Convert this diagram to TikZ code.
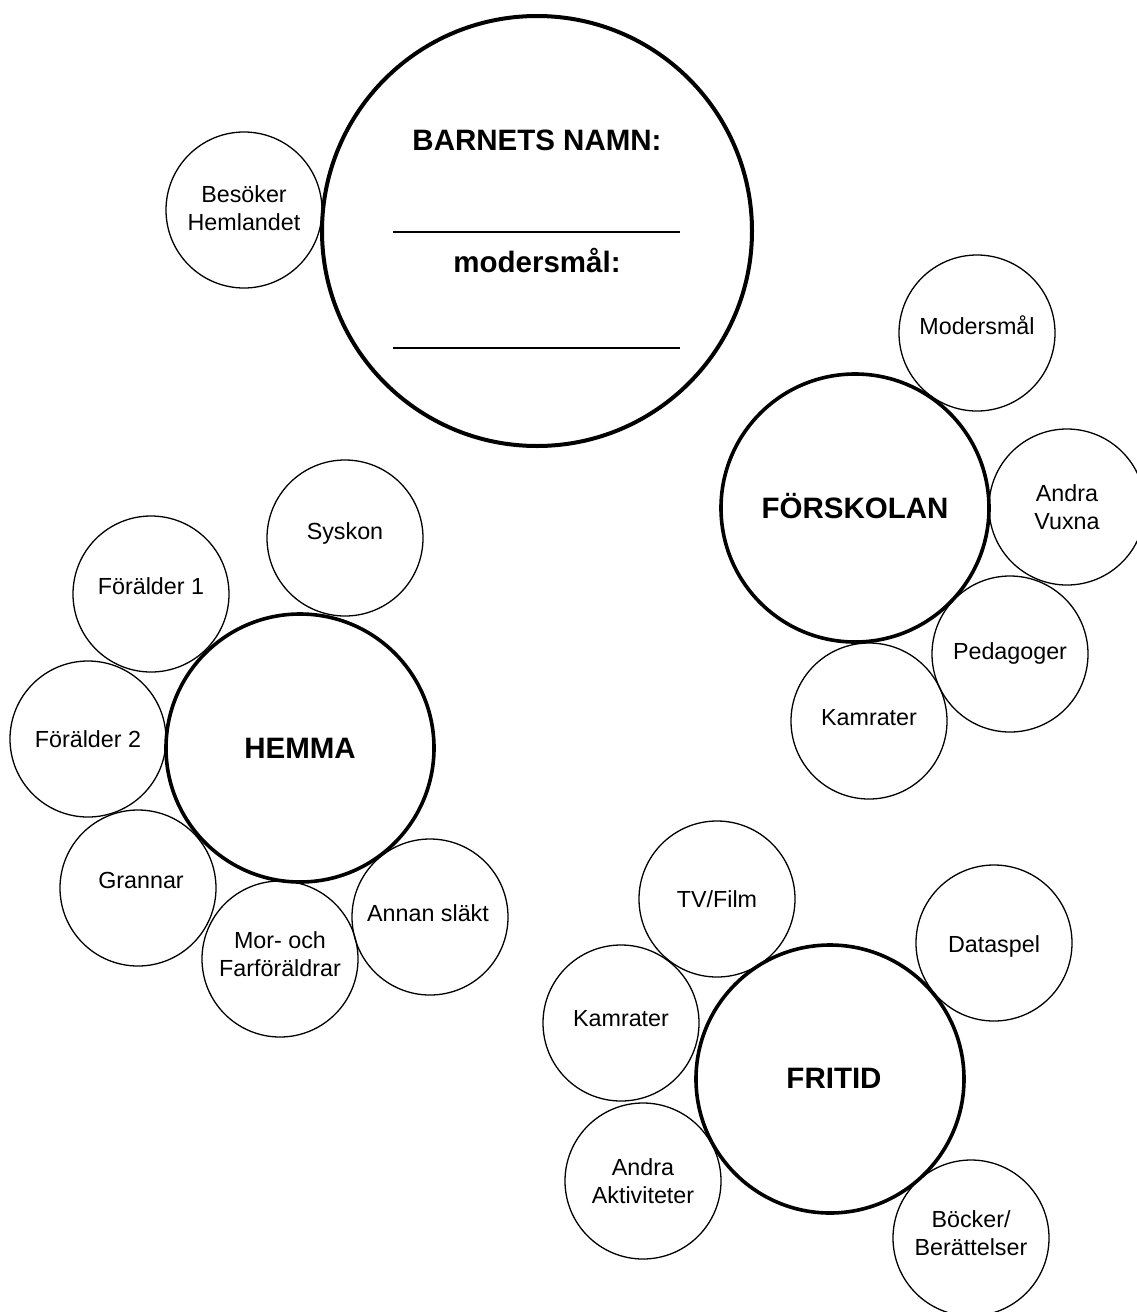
\documentclass[tikz,border=0pt]{standalone}
\usepackage{fontspec}
\setmainfont{Liberation Sans}
\begin{document}
\begin{tikzpicture}[x=1pt,y=-1pt,
  small/.style={circle,draw,line width=1.3pt,minimum size=156pt,inner sep=0pt},
  big/.style={circle,draw,line width=3.6pt,minimum size=268pt,inner sep=0pt},
  huge/.style={circle,draw,line width=4pt,minimum size=430pt,inner sep=0pt},
  stxt/.style={inner sep=0pt,align=center,font=\fontsize{23.3}{28.5}\selectfont},
  btxt/.style={inner sep=0pt,font=\fontsize{29.5}{34}\selectfont\bfseries},
  title/.style={anchor=base,inner sep=0pt,font=\fontsize{29.5}{34}\selectfont\bfseries},
  rule/.style={line width=1.3pt}]
\useasboundingbox (0,0) rectangle (1136,1312);
% name circle
\node[huge] (namn) at (537,231) {};
\node[title] (t1) at (537,150) {BARNETS NAMN:};
\node[title] (t2) at (537,272) {modersmål:};
\coordinate (l1a) at (393,232); \coordinate (l1b) at (680,232);
\coordinate (l2a) at (393,348); \coordinate (l2b) at (680,348);
\draw[rule] (l1a) -- (l1b);
\draw[rule] (l2a) -- (l2b);
\node[small] (besok) at (244,210) {};
\node[stxt] (besok-t) at ([yshift=2pt]besok.center) {Besöker\\Hemlandet};
% förskolan
\node[big] (forsk) at (855,508) {};
\node[btxt] (forsk-t) at ([yshift=2pt]forsk.center) {FÖRSKOLAN};
\node[small] (moders) at (977,333) {};
\node[stxt] (moders-t) at ([yshift=8pt]moders.center) {Modersmål};
\node[small] (vuxna) at (1067,507) {};
\node[stxt] (vuxna-t) at (vuxna.center) {Andra\\Vuxna};
\node[small] (peda) at (1010,654) {};
\node[stxt] (peda-t) at ([yshift=1pt]peda.center) {Pedagoger};
\node[small] (kam1) at (869,721) {};
\node[stxt] (kam1-t) at ([yshift=3pt]kam1.center) {Kamrater};
% hemma
\node[big] (hemma) at (300,748) {};
\node[btxt] (hemma-t) at (hemma.center) {HEMMA};
\node[small] (syskon) at (345,538) {};
\node[stxt] (syskon-t) at ([yshift=5pt]syskon.center) {Syskon};
\node[small] (for1) at (151,594) {};
\node[stxt] (for1-t) at ([yshift=8pt]for1.center) {Förälder 1};
\node[small] (for2) at (88,739) {};
\node[stxt] (for2-t) at (for2.center) {Förälder 2};
\node[small] (grannar) at (138,888) {};
\node[stxt] (grannar-t) at ([xshift=3pt,yshift=8pt]grannar.center) {Grannar};
\node[small] (morfar) at (280,959) {};
\node[stxt] (morfar-t) at ([yshift=5pt]morfar.center) {Mor- och\\Farföräldrar};
\node[small] (slakt) at (430,917) {};
\node[stxt] (slakt-t) at ([xshift=-2pt,yshift=4pt]slakt.center) {Annan släkt};
% fritid
\node[big] (fritid) at (830,1079) {};
\node[btxt] (fritid-t) at ([xshift=4pt,yshift=1pt]fritid.center) {FRITID};
\node[small] (tv) at (717,899) {};
\node[stxt] (tv-t) at (tv.center) {TV/Film};
\node[small] (data) at (994,943) {};
\node[stxt] (data-t) at ([yshift=-3pt]data.center) {Dataspel};
\node[small] (kam2) at (621,1023) {};
\node[stxt] (kam2-t) at ([yshift=4pt]kam2.center) {Kamrater};
\node[small] (aktiv) at (643,1181) {};
\node[stxt] (aktiv-t) at (aktiv.center) {Andra\\Aktiviteter};
\node[small] (bocker) at (971,1238) {};
\node[stxt] (bocker-t) at ([yshift=5pt]bocker.center) {Böcker/\\Berättelser};
\end{tikzpicture}
\end{document}
